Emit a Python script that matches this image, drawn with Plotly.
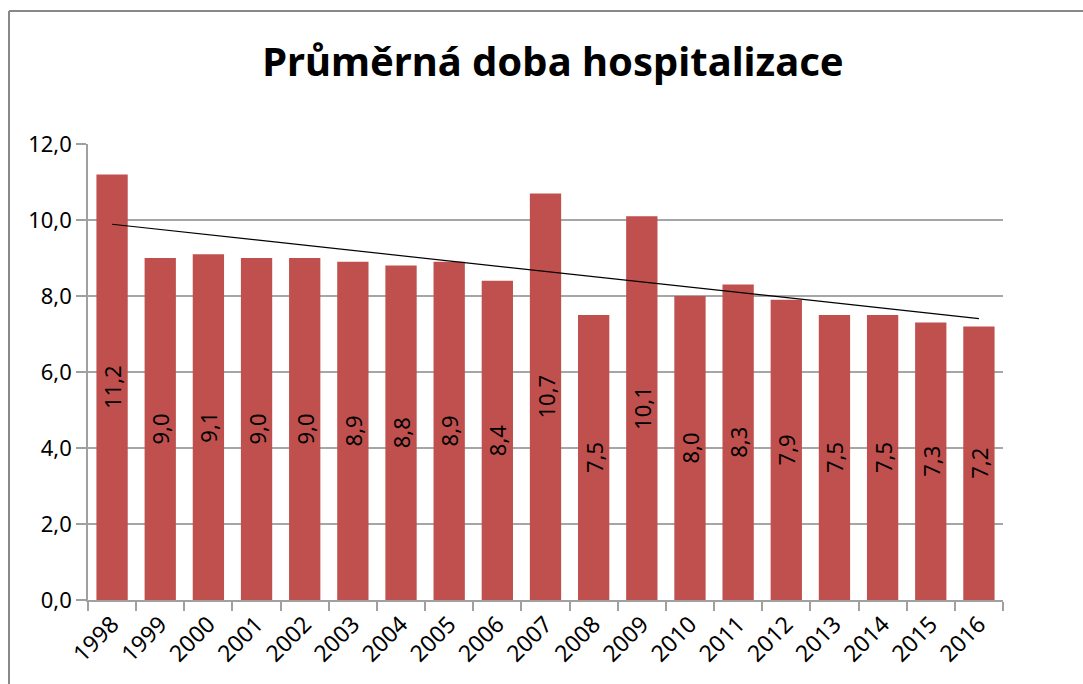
import numpy as np
import plotly.graph_objects as go

years = ["1998", "1999", "2000", "2001", "2002", "2003", "2004", "2005", "2006", "2007",
         "2008", "2009", "2010", "2011", "2012", "2013", "2014", "2015", "2016"]
values = [11.2, 9.0, 9.1, 9.0, 9.0, 8.9, 8.8, 8.9, 8.4, 10.7,
          7.5, 10.1, 8.0, 8.3, 7.9, 7.5, 7.5, 7.3, 7.2]
title_text = "Průměrná doba hospitalizace"

# linear trend line (as Excel's linear trendline) computed from the data
xi = np.arange(1, len(values) + 1)
slope, intercept = np.polyfit(xi, values, 1)
trend = list(slope * xi + intercept)

# body margin removed by post_script, figure fills the window
OFF = 0
W, H = 1083, 684
L, T = 88 - OFF, 144 - OFF
R = W - (1003 - OFF)
B = H - (600 - OFF)
pw, ph = W - L - R, H - T - B

def px_x(p):
    return (p - OFF - L) / pw

def px_y(p):
    return (H - B - (p - OFF)) / ph

fig = go.Figure()
fig.add_trace(go.Bar(
    x=years, y=values,
    marker=dict(color="#C0504D", line=dict(width=0)),
    text=values, texttemplate="%{y:.1f}",
    textangle=-90, textposition="inside", insidetextanchor="middle",
    constraintext="none",
    textfont=dict(color="black", size=22, family="Noto Sans"),
    width=0.65, hoverinfo="skip",
))
fig.add_trace(go.Scatter(
    x=years, y=trend, mode="lines",
    line=dict(color="black", width=1.2), hoverinfo="skip",
))

fig.update_layout(
    width=W, height=H,
    margin=dict(l=L, r=R, t=T, b=B),
    paper_bgcolor="white", plot_bgcolor="white",
    showlegend=False,
    separators=", ",
    font=dict(family="Noto Sans", color="black"),
    title=dict(text="<b>" + title_text + "</b>", x=(553 - OFF) / W, xanchor="center",
               y=1 - (62 - OFF) / H, yanchor="middle",
               font=dict(size=40, family="Noto Sans", color="black")),
    shapes=[
        dict(type="line", xref="paper", yref="paper",
             x0=px_x(9), x1=px_x(1100), y0=px_y(11), y1=px_y(11),
             line=dict(color="#888888", width=2), layer="below"),
        dict(type="line", xref="paper", yref="paper",
             x0=px_x(9), x1=px_x(9), y0=px_y(11), y1=px_y(700),
             line=dict(color="#888888", width=2), layer="below"),
    ],
)
fig.update_xaxes(
    type="category", showgrid=False, showline=True, linecolor="#A0A0A0", linewidth=1.5,
    ticks="outside", tickson="boundaries", ticklen=9, tickcolor="#A0A0A0", tickwidth=1.5,
    tickangle=-45, tickfont=dict(size=23, family="Noto Sans", color="black"),
)
fig.update_yaxes(
    range=[0, 12], dtick=2, tickformat=".1f",
    showgrid=True, gridcolor="#A6A6A6", gridwidth=1.5,
    showline=True, linecolor="#A0A0A0", linewidth=1.5,
    ticks="outside", ticklen=10, tickcolor="#A0A0A0", tickwidth=1.5,
    tickfont=dict(size=22, family="Noto Sans", color="black"),
    zeroline=False,
)

fig.write_html(
    "out.html",
    config={"displayModeBar": False},
    post_script="document.body.style.margin='0';document.body.style.overflow='hidden';",
)
